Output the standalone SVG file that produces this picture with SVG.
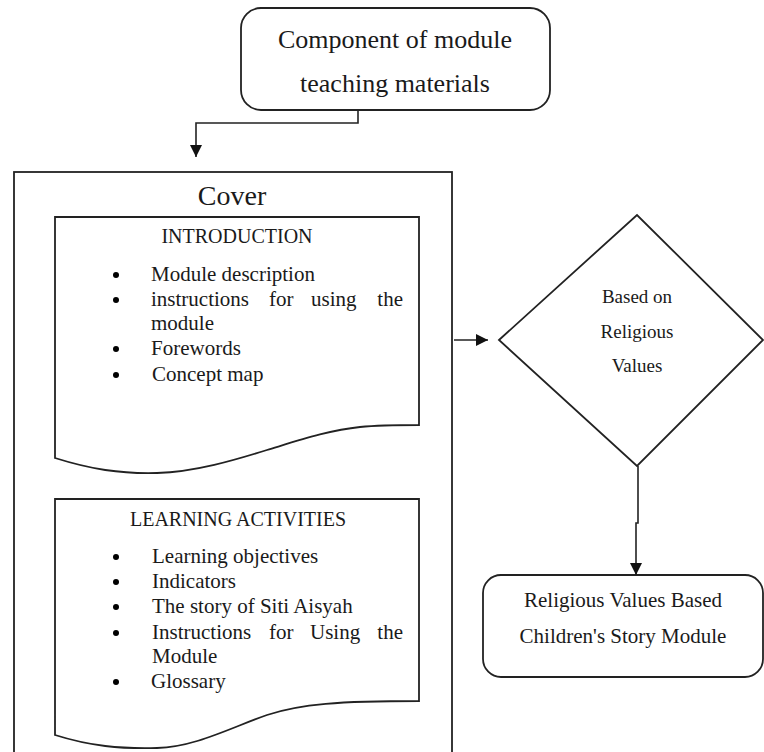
<svg xmlns="http://www.w3.org/2000/svg" width="764" height="752" viewBox="0 0 764 752">
<style>
.ln{fill:none;stroke:#222;stroke-width:1.6}
.box{fill:#fff;stroke:#222;stroke-width:1.8}
text{font-family:'Liberation Serif','Times New Roman',serif;fill:#1a1a1a}
.c{text-anchor:middle}
.e{text-anchor:end}
.big{font-size:26px}
.hd{font-size:20px}
.li{font-size:21px}
.dm{font-size:19px}
</style>
<defs>
<marker id="ah" markerUnits="userSpaceOnUse" markerWidth="12" markerHeight="12" refX="12" refY="6" orient="auto">
<path d="M0,0 L12,6 L0,12 Z" fill="#111"/>
</marker>
</defs>
<rect width="764" height="752" fill="#fff"/>
<g font-family="Liberation Serif, serif">
<g id="top-node">
<rect class="box" x="241" y="8" width="309" height="102" rx="20"/>
<text class="big c" x="395" y="48">Component of module</text>
<text class="big c" x="395" y="92">teaching materials</text>
</g>
<g id="cover-node">
<rect class="box" x="14" y="172" width="438" height="620"/>
<text class="c" style="font-size:28px" x="232" y="205">Cover</text>
</g>
<g id="introduction-node">
<path class="box" d="M55,217 H419 V425 C400,425 380,425 360,427 C330,430 300,440 267,450 C235,460 195,472 157,473 C120,474 90,469 55,458 Z"/>
<text class="hd c" x="237" y="243">INTRODUCTION</text>
<g class="li">
<circle cx="116" cy="275" r="3"/>
<text x="151" y="281">Module description</text>
<circle cx="116" cy="300" r="3"/>
<text x="151" y="306">instructions</text>
<text x="269" y="306">for</text>
<text x="311" y="306">using</text>
<text class="e" x="403" y="306">the</text>
<text x="151" y="330">module</text>
<circle cx="116" cy="349" r="3"/>
<text x="151" y="355">Forewords</text>
<circle cx="116" cy="375" r="3"/>
<text x="152" y="381">Concept map</text>
</g>
</g>
<g id="learning-node">
<path class="box" d="M55,499 H419 V701 C340,701 300,704 267,715 C230,728 195,747 157,748 C120,749 90,746 55,735 Z"/>
<text class="hd c" x="238" y="526">LEARNING ACTIVITIES</text>
<g class="li">
<circle cx="116" cy="557" r="3"/>
<text x="152" y="563">Learning objectives</text>
<circle cx="116" cy="582" r="3"/>
<text x="152" y="588">Indicators</text>
<circle cx="116" cy="607" r="3"/>
<text x="152" y="613">The story of Siti Aisyah</text>
<circle cx="116" cy="633" r="3"/>
<text x="152" y="639">Instructions</text>
<text x="269" y="639">for</text>
<text x="310" y="639">Using</text>
<text class="e" x="403" y="639">the</text>
<text x="152" y="663">Module</text>
<circle cx="116" cy="682" r="3"/>
<text x="151" y="688">Glossary</text>
</g>
</g>
<g id="decision-node">
<polygon class="box" points="499,340 637,215 763,340 637,466"/>
<text class="dm c" x="637" y="303">Based on</text>
<text class="dm c" x="637" y="338">Religious</text>
<text class="dm c" x="637" y="372">Values</text>
</g>
<g id="result-node">
<rect class="box" x="483" y="575" width="280" height="102" rx="18"/>
<text class="li c" x="623" y="607">Religious Values Based</text>
<text class="li c" x="623" y="643">Children's Story Module</text>
</g>
</g>
<g id="connectors">
<path class="ln" d="M358,110 V123 H196 V157" marker-end="url(#ah)"/>
<path class="ln" d="M454,340 H488" marker-end="url(#ah)"/>
<path class="ln" d="M638,466 V523 H636 V575" marker-end="url(#ah)"/>
</g>
</svg>
